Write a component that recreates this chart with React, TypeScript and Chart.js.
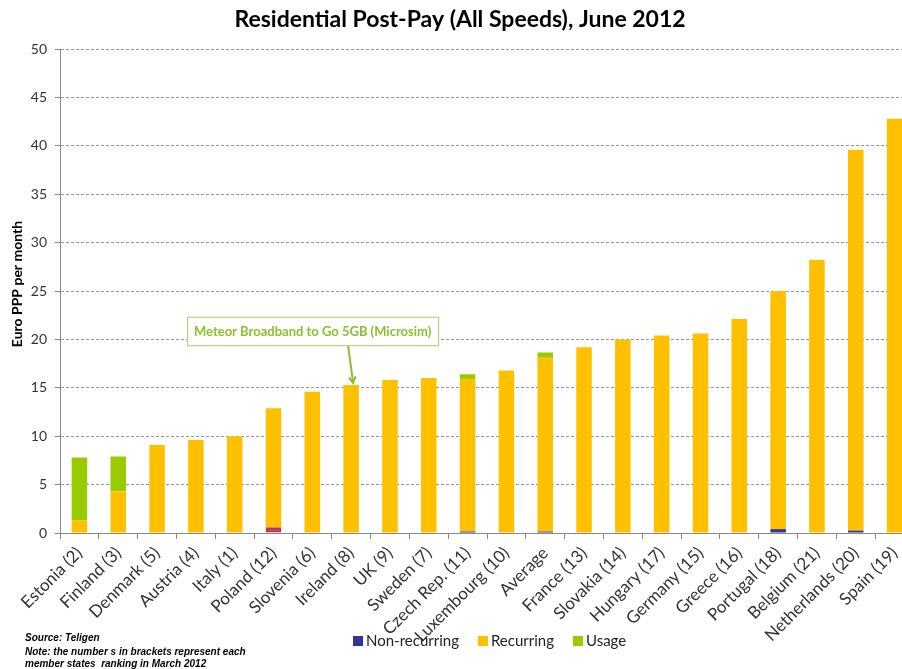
import React, { useEffect, useRef } from "react";
import { Chart, registerables } from "chart.js";
Chart.register(...registerables);

const titleText = "Residential Post-Pay (All Speeds), June 2012";
const yAxisTitle = "Euro PPP per month";
const categories = [
  "Estonia (2)", "Finland (3)", "Denmark (5)", "Austria (4)", "Italy (1)", "Poland (12)",
  "Slovenia (6)", "Ireland (8)", "UK (9)", "Sweden (7)", "Czech Rep. (11)", "Luxembourg (10)",
  "Average", "France (13)", "Slovakia (14)", "Hungary (17)", "Germany (15)", "Greece (16)",
  "Portugal (18)", "Belgium (21)", "Netherlands (20)", "Spain (19)",
];
const nonRecurring = [0, 0, 0, 0, 0, 0.6, 0, 0, 0, 0, 0.15, 0, 0.15, 0, 0, 0, 0, 0, 0.4, 0, 0.25, 0];
const recurring = [1.3, 4.3, 9.1, 9.6, 10.0, 12.3, 14.6, 15.3, 15.8, 16.0, 15.75, 16.8, 17.95, 19.2, 20.0, 20.4, 20.6, 22.1, 24.6, 28.2, 39.35, 42.8];
const usage = [6.5, 3.6, 0, 0, 0, 0, 0, 0, 0, 0, 0.5, 0, 0.55, 0, 0, 0, 0, 0, 0, 0, 0, 0];
const seriesNames = ["Non-recurring", "Recurring", "Usage"];
const seriesColors = ["#333399", "#FFC000", "#99CC00"];
const annotationText = "Meteor Broadband to Go 5GB (Microsim)";
const annotationIndex = 7;
const noteLines = [
  "Source: Teligen",
  "Note: the number s in brackets represent each",
  "member states  ranking in March 2012",
];

const FONT = "Lato, 'Open Sans', sans-serif";

const overlayPlugin = {
  id: "overlay",
  afterDraw(chart: any) {
    const ctx = chart.ctx as CanvasRenderingContext2D;
    const xs = chart.scales.x;
    const ys = chart.scales.y;
    ctx.save();
    // title
    ctx.fillStyle = "#000";
    ctx.font = `bold 23px ${FONT}`;
    ctx.textAlign = "center";
    ctx.textBaseline = "middle";
    ctx.fillText(titleText, 460, 20);

    // y axis title
    ctx.save();
    ctx.translate(17, 284);
    ctx.rotate(-Math.PI / 2);
    ctx.font = `bold 14px ${FONT}`;
    ctx.fillStyle = "#000";
    ctx.fillText(yAxisTitle, 0, 0);
    ctx.restore();

    // annotation
    const cx = xs.getPixelForValue(annotationIndex);
    const top = ys.getPixelForValue(22.35);
    const bot = ys.getPixelForValue(19.4);
    const left = cx - 164;
    const right = cx + 87;
    ctx.fillStyle = "#fff";
    ctx.fillRect(left, top, right - left, bot - top);
    ctx.strokeStyle = "#A8D05A";
    ctx.lineWidth = 1;
    ctx.strokeRect(left + 0.5, top + 0.5, right - left, bot - top);
    ctx.fillStyle = "#8DBF2E";
    ctx.font = `bold 13px ${FONT}`;
    ctx.textAlign = "center";
    ctx.fillText(annotationText, (left + right) / 2, (top + bot) / 2 + 1);
    const ax0 = cx - 3, ay0 = bot + 1;
    const ax1 = cx + 2, ay1 = ys.getPixelForValue(15.5);
    ctx.strokeStyle = "#8DBF2E";
    ctx.lineWidth = 2;
    ctx.beginPath();
    ctx.moveTo(ax0, ay0);
    ctx.lineTo(ax1, ay1);
    ctx.stroke();
    const ang = Math.atan2(ay1 - ay0, ax1 - ax0);
    ctx.beginPath();
    ctx.moveTo(ax1 + 7 * Math.cos(ang + Math.PI - 0.5), ay1 + 7 * Math.sin(ang + Math.PI - 0.5));
    ctx.lineTo(ax1, ay1);
    ctx.lineTo(ax1 + 7 * Math.cos(ang + Math.PI + 0.5), ay1 + 7 * Math.sin(ang + Math.PI + 0.5));
    ctx.stroke();

    // legend
    ctx.font = `15px ${FONT}`;
    ctx.textAlign = "left";
    ctx.textBaseline = "middle";
    let lx = 353;
    const ly = 641;
    seriesNames.forEach((n, i) => {
      ctx.fillStyle = seriesColors[i];
      ctx.fillRect(lx, ly - 5, 10, 10);
      ctx.fillStyle = "#222";
      ctx.fillText(n, lx + 13, ly);
      lx += 13 + ctx.measureText(n).width + 19;
    });

    // notes
    ctx.fillStyle = "#000";
    ctx.font = `italic bold 10px 'Liberation Sans', Arial, sans-serif`;
    ctx.textAlign = "left";
    ctx.fillText(noteLines[0], 25, 638);
    ctx.fillText(noteLines[1], 25, 652);
    ctx.fillText(noteLines[2], 25, 664);
    ctx.restore();
  },
};

export default function App() {
  const ref = useRef<HTMLCanvasElement>(null);
  useEffect(() => {
    if (!ref.current) return;
    const borderColors = nonRecurring.map((_, i) => (i === 5 ? "#E0202A" : "rgba(0,0,0,0)"));
    const borderWidths = nonRecurring.map((_, i) => (i === 5 ? 2 : 0));
    const chart = new Chart(ref.current, {
      type: "bar",
      data: {
        labels: categories,
        datasets: [
          { label: seriesNames[0], data: nonRecurring, backgroundColor: seriesColors[0], borderColor: borderColors, borderWidth: borderWidths, borderSkipped: false },
          { label: seriesNames[1], data: recurring, backgroundColor: seriesColors[1] },
          { label: seriesNames[2], data: usage, backgroundColor: seriesColors[2] },
        ],
      },
      plugins: [overlayPlugin],
      options: {
        animation: false,
        responsive: false,
        devicePixelRatio: 1,
        datasets: { bar: { categoryPercentage: 1, barPercentage: 0.4 } },
        layout: { padding: { top: 49, left: 0, right: 6, bottom: 0 } },
        plugins: { legend: { display: false }, title: { display: false }, tooltip: { enabled: false } },
        scales: {
          x: {
            stacked: true,
            grid: { display: true, drawOnChartArea: false, drawTicks: true, tickLength: 6, color: "#888", offset: true },
            border: { display: true, color: "#888" },
            ticks: { color: "#333", font: { family: FONT, size: 17 }, minRotation: 45, maxRotation: 45, padding: 4, autoSkip: false },
            afterFit: (s: any) => { s.height = 136; },
          },
          y: {
            stacked: true,
            min: 0,
            max: 50,
            ticks: { stepSize: 5, color: "#333", font: { family: FONT, size: 14 }, padding: 8 },
            grid: { color: "#999", tickLength: 5, tickBorderDash: [], tickColor: "#888" },
            border: { display: true, color: "#888", dash: [3, 2] },
            afterFit: (s: any) => { s.width = 60; },
          },
        },
      },
    });
    return () => chart.destroy();
  }, []);
  return (
    <div style={{ position: "absolute", left: 0, top: 0, width: 902, height: 669, overflow: "hidden", background: "#fff" }}>
      <canvas ref={ref} width={920} height={669} style={{ display: "block" }} />
    </div>
  );
}
